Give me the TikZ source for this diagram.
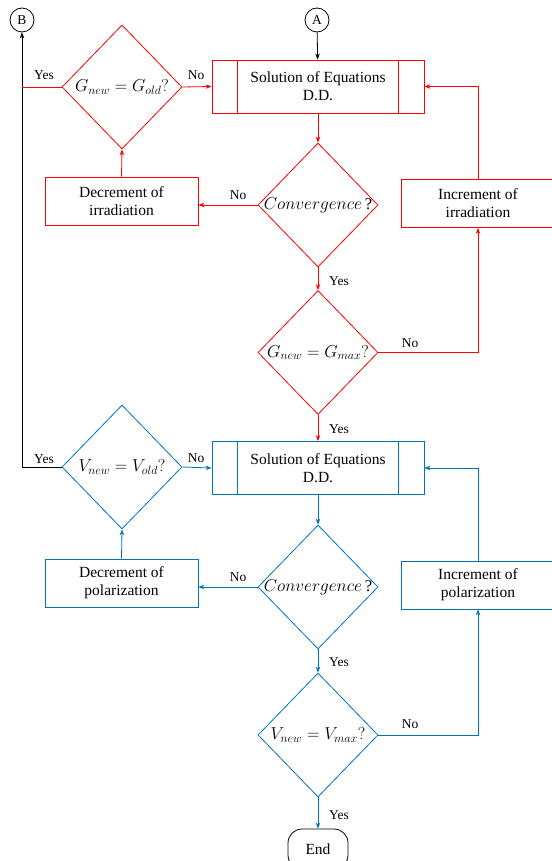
\documentclass[tikz,border=0pt]{standalone}
\usepackage{fontspec}
\setmainfont{Liberation Serif}
\usetikzlibrary{shapes.geometric,arrows.meta}
\definecolor{fred}{RGB}{255,0,0}
\definecolor{fblue}{RGB}{0,114,189}
\begin{document}
\begin{tikzpicture}[x=1pt,y=-1pt,
  every node/.style={font=\fontsize{15.5}{18}\selectfont},
  mth/.style={font=\fontsize{16.5}{18}\selectfont},
  lab/.style={font=\fontsize{13.5}{15}\selectfont, inner sep=1pt},
  con/.style={line width=0.8pt},
  tip/.style={-{Stealth[length=6pt,width=4.5pt]}},
  dia/.style={draw, shape=diamond, line width=0.8pt, minimum width=120pt, minimum height=124pt, inner sep=0pt},
  proc/.style={draw, line width=0.8pt, minimum width=212pt, minimum height=53pt, align=center, inner sep=0pt},
  sbox/.style={draw, line width=0.8pt, minimum width=153pt, minimum height=48pt, align=center, inner sep=0pt},
  conn/.style={draw, circle, line width=0.8pt, minimum size=24pt, inner sep=0pt, font=\fontsize{13.5}{15}\selectfont},
  endb/.style={draw, line width=0.8pt, rounded corners=14pt, minimum width=60pt, minimum height=40pt, inner sep=0pt}
]
\useasboundingbox (0,0) rectangle (551,861);

% connectors A and B
\node[conn] (B) at (22,20) {B};
\node[conn] (A) at (317,20) {A};

% ---- red part ----
\begin{scope}[fred]
\node[proc] (p1) at (318,86.5) {\color{black}Solution of Equations\\\color{black}D.D.};
\draw[con] ([xshift=26pt]p1.north west) -- ([xshift=26pt]p1.south west);
\draw[con] ([xshift=-26pt]p1.north east) -- ([xshift=-26pt]p1.south east);
\node[dia, label={[name=d1t, text=black, mth]center:$G_{new}=G_{old}?$}] (d1) at (122,87) {};
\node[dia, label={[name=c1t, text=black, mth]center:$Convergence$\,?}] (c1) at (318,205) {};
\node[dia, label={[name=m1t, text=black, mth]center:$G_{new}=G_{max}?$}] (m1) at (318,352.5) {};
\node[sbox, text=black] (dec1) at (121.5,201) {Decrement of\\irradiation};
\node[sbox, text=black] (inc1) at (478,203.5) {Increment of\\irradiation};
\end{scope}

% ---- blue part ----
\begin{scope}[fblue]
\node[proc] (p2) at (318,468) {\color{black}Solution of Equations\\\color{black}D.D.};
\draw[con] ([xshift=26pt]p2.north west) -- ([xshift=26pt]p2.south west);
\draw[con] ([xshift=-26pt]p2.north east) -- ([xshift=-26pt]p2.south east);
\node[dia, label={[name=d2t, text=black, mth]center:$V_{new}=V_{old}?$}] (d2) at (122,467) {};
\node[dia, label={[name=c2t, text=black, mth]center:$Convergence$\,?}] (c2) at (318,587) {};
\node[dia, label={[name=m2t, text=black, mth]center:$V_{new}=V_{max}?$}] (m2) at (318,735) {};
\node[sbox, text=black] (dec2) at (121.5,583) {Decrement of\\polarization};
\node[sbox, text=black] (inc2) at (478,585) {Increment of\\polarization};
\end{scope}

\node[endb] (end) at (318,849) {End};

\coordinate (lx1) at (22,87);
\coordinate (lx2) at (22,467);
\coordinate (r1) at (478,352.5);
\coordinate (r2) at (478,735);

% black connectors
\draw[con, tip] (A) -- (p1);
\draw[con, tip] (d2.west) -- (lx2) -- (B);

% red connectors
\begin{scope}[fred]
\draw[con] (d1.west) -- (lx1);
\draw[con, tip] (d1.east) -- (p1.west);
\draw[con, tip] (p1.south) -- (c1.north);
\draw[con, tip] (c1.west) -- (c1.west -| dec1.east);
\draw[con, tip] (dec1.north) -- (d1.south);
\draw[con, tip] (c1.south) -- (m1.north);
\draw[con, tip] (m1.east) -- (r1) -- (inc1.south);
\draw[con, tip] (inc1.north) |- (p1.east);
\draw[con, tip] (m1.south) -- (p2.north);
\end{scope}

% blue connectors
\begin{scope}[fblue]
\draw[con, tip] (d2.east) -- (p2.west);
\draw[con, tip] (p2.south) -- (c2.north);
\draw[con, tip] (c2.west) -- (c2.west -| dec2.east);
\draw[con, tip] (dec2.north) -- (d2.south);
\draw[con, tip] (c2.south) -- (m2.north);
\draw[con, tip] (m2.east) -- (r2) -- (inc2.south);
\draw[con, tip] (inc2.north) |- (p2.east);
\draw[con, tip] (m2.south) -- (end.north);
\end{scope}

% labels
\node[lab] (y1) at (44,75) {Yes};
\node[lab] (n1) at (196,75) {No};
\node[lab] (n2) at (238,195) {No};
\node[lab] (y2) at (339,281) {Yes};
\node[lab] (n3) at (410,343) {No};
\node[lab] (y3) at (339,429) {Yes};
\node[lab] (y4) at (44,459) {Yes};
\node[lab] (n4) at (196,458) {No};
\node[lab] (n5) at (238,577) {No};
\node[lab] (y5) at (339,662) {Yes};
\node[lab] (n6) at (410,724) {No};
\node[lab] (y6) at (339,815) {Yes};
\end{tikzpicture}
\end{document}
